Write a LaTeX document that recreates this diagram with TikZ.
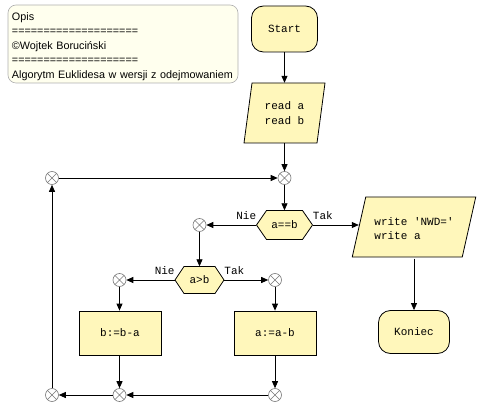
\documentclass[tikz,border=0pt]{standalone}
\usepackage{fontspec}
\setmainfont{Liberation Sans}
\newfontfamily\monof{Liberation Mono}
\usetikzlibrary{arrows.meta,calc}
\definecolor{boxfill}{RGB}{255,247,187}
\definecolor{opisfill}{RGB}{255,255,238}
\definecolor{opisdraw}{RGB}{175,175,175}
\definecolor{juncdraw}{RGB}{120,120,120}
\begin{document}
\begin{tikzpicture}[x=1pt,y=-1pt,
  shapeline/.style={draw=black,line width=0.8pt,fill=boxfill},
  monotext/.style={font=\monof\fontsize{11}{14.5}\selectfont},
  proc/.style={shapeline,monotext,rectangle,minimum width=82pt,minimum height=44pt,inner sep=0pt},
  term/.style={shapeline,monotext,rectangle,rounded corners=12pt,inner sep=0pt},
  ghost/.style={monotext,inner sep=0pt,align=left},
  junc/.style={circle,draw=juncdraw,fill=white,line width=0.6pt,minimum size=13pt,inner sep=0pt,
    path picture={\draw[juncdraw,line width=0.6pt]
      (path picture bounding box.north west) -- (path picture bounding box.south east)
      (path picture bounding box.north east) -- (path picture bounding box.south west);}},
  conn/.style={line width=0.8pt,-{Triangle[length=7pt,width=6pt]}},
  lbl/.style={font=\monof\fontsize{11}{13}\selectfont,inner sep=0pt},
  opisframe/.style={draw=opisdraw,fill=opisfill,line width=0.6pt,rounded corners=8pt},
  opistext/.style={font=\fontsize{10.8}{14.5}\selectfont,align=left,text width=222pt,inner xsep=4pt,inner ysep=0pt}
]
\useasboundingbox (0,0) rectangle (486,411);

% description box
\draw[opisframe] (8,5) rectangle (238,83);
\node[opistext] (opisbox) at (123,46.5) {Opis\\====================\\\textcopyright Wojtek Boruci\'nski\\====================\\Algorytm Euklidesa w wersji z odejmowaniem};

% start
\node[term,minimum width=66pt,minimum height=46pt] (start) at (284.5,29) {Start};

% read parallelogram
\coordinate (rc) at (284.5,113);
\draw[shapeline] ($(rc)+(-32.5,-30)$) -- ($(rc)+(40.5,-30)$) -- ($(rc)+(32.5,30)$) -- ($(rc)+(-40.5,30)$) -- cycle;
\node[ghost,minimum width=73pt,minimum height=60pt] (rd) at (rc) {read a\\read b};

% junctions
\node[junc] (j1) at (284.5,178) {};
\node[junc] (jl) at (52,178) {};
\node[junc] (j2) at (199.5,225) {};
\node[junc] (jL) at (119.5,280) {};
\node[junc] (jR) at (275,280) {};
\node[junc] (jbL) at (119.5,395) {};
\node[junc] (jbR) at (275,395) {};
\node[junc] (jb0) at (52,395) {};

% decision a==b
\coordinate (ec) at (284.5,225);
\draw[shapeline] ($(ec)+(-28,0)$) -- ($(ec)+(-18,-14.5)$) -- ($(ec)+(18,-14.5)$) -- ($(ec)+(28,0)$) -- ($(ec)+(18,14.5)$) -- ($(ec)+(-18,14.5)$) -- cycle;
\node[ghost,minimum width=56pt,minimum height=29pt] (eq) at (ec) {a==b};

% decision a>b
\coordinate (gc) at (199.5,280);
\draw[shapeline] ($(gc)+(-24.5,0)$) -- ($(gc)+(-15.5,-13.5)$) -- ($(gc)+(15.5,-13.5)$) -- ($(gc)+(24.5,0)$) -- ($(gc)+(15.5,13.5)$) -- ($(gc)+(-15.5,13.5)$) -- cycle;
\node[ghost,minimum width=49pt,minimum height=27pt] (gt) at (gc) {a>b};

% write parallelogram
\coordinate (wc) at (414,227);
\draw[shapeline] ($(wc)+(-48.25,-30)$) -- ($(wc)+(61.75,-30)$) -- ($(wc)+(48.25,30)$) -- ($(wc)+(-61.75,30)$) -- cycle;
\node[ghost,minimum width=110pt,minimum height=60pt] (wr) at ([yshift=-1.5pt]wc) {write 'NWD='\\write a};

% end
\node[term,minimum width=71pt,minimum height=43pt] (kon) at (414,332) {Koniec};

% process boxes
\node[proc] (bba) at (120,333) {b:=b-a};
\node[proc] (abb) at (275,333) {a:=a-b};

% labels
\node[lbl,anchor=base east] (n1) at ([yshift=6pt]eq.west) {Nie};
\node[lbl,anchor=base west] (t1) at ([yshift=6pt]eq.east) {Tak};
\node[lbl,anchor=base east] (n2) at ([yshift=6pt]gt.west) {Nie};
\node[lbl,anchor=base west] (t2) at ([yshift=6pt]gt.east) {Tak};

% connectors
\draw[conn] (start.south) -- (rd.north);
\draw[conn] (rd.south) -- (j1.north);
\draw[conn] (j1.south) -- (eq.north);
\draw[conn] (eq.west) -- (j2.east);
\draw[conn] (eq.east) -- (eq.east -| wr.west);
\draw[conn] (wr.south) -- (kon.north);
\draw[conn] (j2.south) -- (gt.north);
\draw[conn] (gt.west) -- (jL.east);
\draw[conn] (gt.east) -- (jR.west);
\draw[conn] (jL.south) -- (jL.south |- bba.north);
\draw[conn] (jR.south) -- (abb.north);
\draw[conn] (bba.south -| jbL) -- (jbL.north);
\draw[conn] (abb.south) -- (jbR.north);
\draw[conn] (jbR.west) -- (jbL.east);
\draw[conn] (jbL.west) -- (jb0.east);
\draw[conn] (jb0.north) -- (jl.south);
\draw[conn] (jl.east) -- (j1.west);
\end{tikzpicture}
\end{document}
